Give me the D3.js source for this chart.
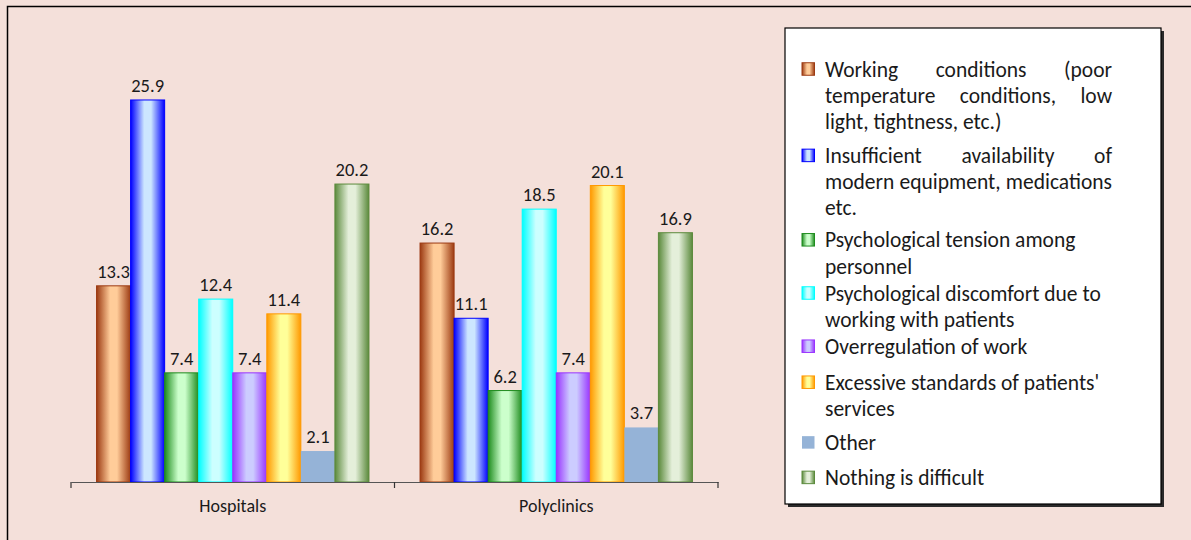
<!DOCTYPE html>
<html>
<head>
<meta charset="utf-8">
<script src="https://cdn.jsdelivr.net/npm/d3@7"></script>
<style>
  html, body { margin: 0; padding: 0; background: #F4E0DA; }
  svg { display: block; }
  text { font-family: Carlito, Lato, "Liberation Sans", sans-serif; fill: #1a1a1a; }
</style>
</head>
<body>
<svg id="chart" width="1191" height="540"></svg>
<script>
// Categories on the x axis
const groups = ["Hospitals", "Polyclinics"];

// Series (one bar per series in each group)
const seriesNames = [
  "Working conditions (poor temperature conditions, low light, tightness, etc.)",
  "Insufficient availability of modern equipment, medications etc.",
  "Psychological tension among personnel",
  "Psychological discomfort due to working with patients",
  "Overregulation of work",
  "Excessive standards of patients' services",
  "Other",
  "Nothing is difficult"
];

// Percent values per series: [Hospitals, Polyclinics]
const workingConditions   = [13.3, 16.2];
const insufficientEquip   = [25.9, 11.1];
const tensionPersonnel    = [7.4, 6.2];
const discomfortPatients  = [12.4, 18.5];
const overregulation      = [7.4, 7.4];
const excessiveStandards  = [11.4, 20.1];
const other               = [2.1, 3.7];
const nothingDifficult    = [20.2, 16.9];

// Legend text broken into lines; justified lines are flagged
const legendLines = [
  [["Working conditions (poor", true], ["temperature conditions, low", true], ["light, tightness, etc.)", false]],
  [["Insufficient availability of", true], ["modern equipment, medications", true], ["etc.", false]],
  [["Psychological tension among", false], ["personnel", false]],
  [["Psychological discomfort due to", false], ["working with patients", false]],
  [["Overregulation of work", false]],
  [["Excessive standards of patients'", false], ["services", false]],
  [["Other", false]],
  [["Nothing is difficult", false]]
];

const values = [workingConditions, insufficientEquip, tensionPersonnel, discomfortPatients,
                overregulation, excessiveStandards, other, nothingDifficult];

// Fill styles: edge colour, centre colour (null centre = flat fill)
const palette = [
  { edge: "#9C3A12", mid: "#FFCC99" },
  { edge: "#0000FF", mid: "#CCE6FF" },
  { edge: "#1E8C1E", mid: "#CCFFCC" },
  { edge: "#00FFFF", mid: "#CCFFFF" },
  { edge: "#9933FF", mid: "#CCCCFF" },
  { edge: "#FF9900", mid: "#FFFF99" },
  { edge: "#95B3D7", mid: null },
  { edge: "#5B8A3C", mid: "#E4EFDA" }
];

const svg = d3.select("#chart");
const defs = svg.append("defs");

palette.forEach((p, i) => {
  if (!p.mid) return;
  const g = defs.append("linearGradient")
    .attr("id", "grad" + i)
    .attr("x1", "0%").attr("x2", "100%").attr("y1", "0%").attr("y2", "0%");
  g.append("stop").attr("offset", "0%").attr("stop-color", p.edge);
  g.append("stop").attr("offset", "40%").attr("stop-color", p.mid);
  g.append("stop").attr("offset", "60%").attr("stop-color", p.mid);
  g.append("stop").attr("offset", "100%").attr("stop-color", p.edge);
});
const fillOf = i => palette[i].mid ? `url(#grad${i})` : palette[i].edge;

// Outer frame (left and top edges visible)
svg.append("path")
  .attr("d", "M7.5,545 V6.5 H1195")
  .attr("fill", "none").attr("stroke", "#000").attr("stroke-width", 1.5);

// Plot area
const plot = { left: 71, right: 718, bottom: 482 };
const x0 = d3.scaleBand().domain(groups).range([plot.left, plot.right]).paddingInner(0).paddingOuter(0);
const x1 = d3.scaleBand().domain(d3.range(seriesNames.length))
  .range([0, x0.bandwidth()]).paddingInner(0).paddingOuter(0.75);
const y = d3.scaleLinear().domain([0, 30]).range([plot.bottom, plot.bottom - 30 * 14.75]);

const groupG = svg.selectAll("g.group")
  .data(groups)
  .join("g")
  .attr("class", "group")
  .attr("transform", d => `translate(${x0(d)},0)`);

groupG.each(function(gName, gi) {
  const g = d3.select(this);
  const bars = values.map((v, si) => ({ si, v: v[gi] }));
  g.selectAll("rect")
    .data(bars)
    .join("rect")
    .attr("x", d => x1(d.si))
    .attr("y", d => y(d.v))
    .attr("width", x1.bandwidth())
    .attr("height", d => y(0) - y(d.v))
    .attr("fill", d => fillOf(d.si))
    .attr("stroke", d => palette[d.si].mid ? palette[d.si].edge : "none")
    .attr("stroke-width", 1);
  g.selectAll("text.val")
    .data(bars)
    .join("text")
    .attr("class", "val")
    .attr("x", d => x1(d.si) + x1.bandwidth() / 2)
    .attr("y", d => y(d.v) - 8)
    .attr("text-anchor", "middle")
    .attr("font-size", 18.5)
    .text(d => d.v.toFixed(1));
});

// X axis
const xAxis = d3.axisBottom(x0).tickSize(0).tickPadding(17);
const axisG = svg.append("g").attr("transform", `translate(0,${plot.bottom})`).call(xAxis);
axisG.select(".domain").attr("stroke", "#555").attr("stroke-width", 1.2);
axisG.selectAll("text").attr("font-size", 18).attr("font-family", null).attr("fill", "#1a1a1a");
// Category boundary ticks
const boundaries = [plot.left, x0(groups[1]), plot.right];
axisG.selectAll("line.bnd")
  .data(boundaries)
  .join("line")
  .attr("class", "bnd")
  .attr("x1", d => d).attr("x2", d => d)
  .attr("y1", 0).attr("y2", 6)
  .attr("stroke", "#333").attr("stroke-width", 1.2);

// Legend
const lg = { x: 785, y: 28, w: 376, h: 476 };
svg.append("rect")
  .attr("x", lg.x + 3).attr("y", lg.y + 3).attr("width", lg.w).attr("height", lg.h)
  .attr("fill", "#2a2a2a");
svg.append("rect")
  .attr("x", lg.x).attr("y", lg.y).attr("width", lg.w).attr("height", lg.h)
  .attr("fill", "#fff").attr("stroke", "#000").attr("stroke-width", 1.2);

const textLeft = 825, textRight = 1112, lineH = 26.2, legendFont = 21.5;
// vertical space before each entry after the first
const entryGaps = [0, 34, 32, 27, 27, 36, 34, 35];
let cy = 69;
legendLines.forEach((lines, i) => {
  if (i > 0) cy += (legendLines[i - 1].length - 1) * lineH + entryGaps[i];
  const m = 12.5;
  svg.append("rect")
    .attr("x", 802).attr("y", cy - m / 2)
    .attr("width", m).attr("height", m)
    .attr("fill", fillOf(i))
    .attr("stroke", palette[i].mid ? palette[i].edge : "none")
    .attr("stroke-width", 1);
  lines.forEach(([line, justify], li) => {
    const ly = cy + li * lineH;
    const t = svg.append("text")
      .attr("x", textLeft).attr("y", ly)
      .attr("dy", "0.35em")
      .attr("font-size", legendFont);
    if (!justify) {
      t.text(line);
    } else {
      // spread words across the full line width
      const words = line.split(" ");
      const widths = words.map(w => {
        const s = svg.append("text").attr("font-size", legendFont).text(w);
        const len = s.node().getComputedTextLength();
        s.remove();
        return len;
      });
      const gap = (textRight - textLeft - d3.sum(widths)) / (words.length - 1);
      let xPos = textLeft;
      words.forEach((w, wi) => {
        t.append("tspan").attr("x", xPos).text(w);
        xPos += widths[wi] + gap;
      });
    }
  });
});
</script>
</body>
</html>
